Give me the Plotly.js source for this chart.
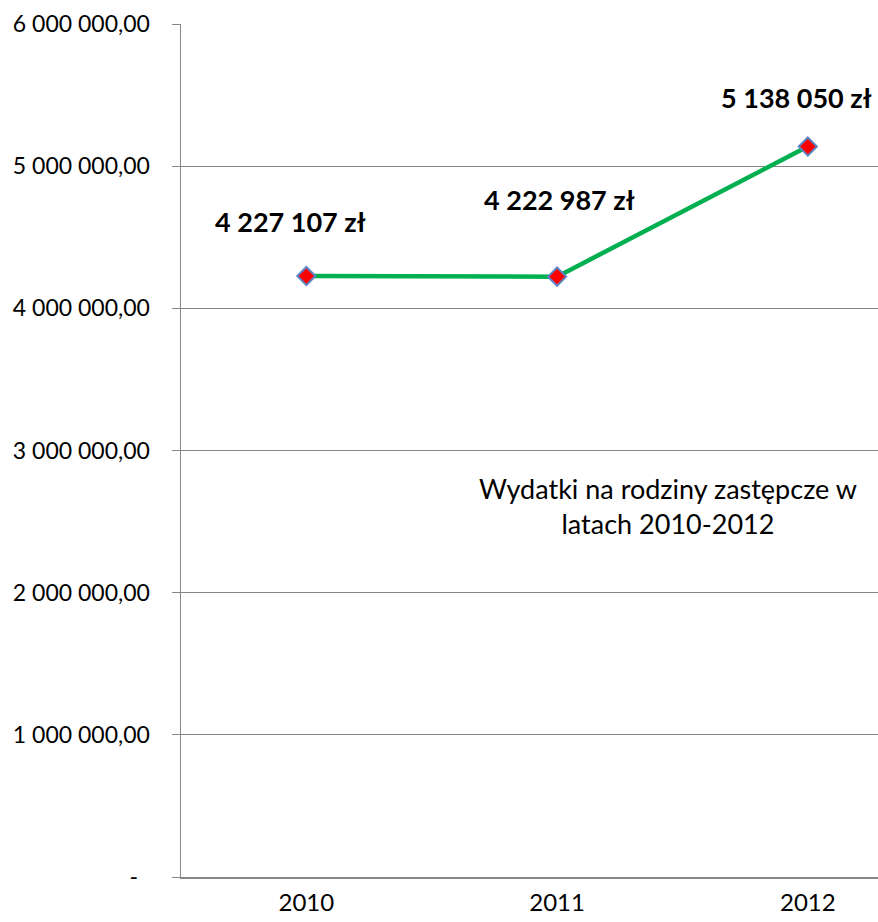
<!DOCTYPE html>
<html>
<head>
<meta charset="utf-8">
<script src="https://cdn.plot.ly/plotly-3.0.1.min.js"></script>
<style>html,body{margin:0;padding:0;background:#fff;}#chart{width:878px;height:922px;}</style>
</head>
<body>
<div id="chart"></div>
<script>
const years = ['2010', '2011', '2012'];
const values = [4227107, 4222987, 5138050];
const valueLabels = ['4 227 107 zł', '4 222 987 zł', '5 138 050 zł'];
const yTickVals = [0, 1000000, 2000000, 3000000, 4000000, 5000000, 6000000];
const yTickText = ['-\u00a0\u00a0', '1 000 000,00', '2 000 000,00', '3 000 000,00', '4 000 000,00', '5 000 000,00', '6 000 000,00'];
const labelShifts = [[-16, 55], [2, 77], [-11, 49]];
const noteText = 'Wydatki na rodziny zastępcze w<br>latach 2010-2012';

const trace = {
  x: years,
  y: values,
  type: 'scatter',
  mode: 'lines+markers',
  line: {color: '#00B050', width: 4.5},
  marker: {symbol: 'diamond', size: 14, color: '#FF0000', line: {color: '#5B86C5', width: 2}},
  hoverinfo: 'none'
};

const annotations = years.map((yr, i) => ({
  x: i, y: values[i], xref: 'x', yref: 'y',
  text: '<b>' + valueLabels[i] + '</b>', showarrow: false,
  xanchor: 'center', yanchor: 'middle',
  xshift: labelShifts[i][0], yshift: labelShifts[i][1],
  font: {family: 'Lato', size: 27, color: '#000'}
}));
annotations.push({
  x: 0.699, y: 0.435, xref: 'paper', yref: 'paper',
  xanchor: 'center', yanchor: 'middle',
  text: noteText, showarrow: false, align: 'center',
  font: {family: 'Lato', size: 27, color: '#000'}
});

const layout = {
  width: 878, height: 922,
  margin: {l: 181, r: 0, t: 24, b: 45, pad: 0},
  paper_bgcolor: '#fff', plot_bgcolor: '#fff',
  showlegend: false,
  font: {family: 'Lato', color: '#000'},
  xaxis: {
    type: 'category', range: [-0.5, 2.28],
    showgrid: false, showline: true, linecolor: '#868686', linewidth: 1.5,
    ticks: '', tickfont: {family: 'Lato', size: 24, color: '#000'},
    ticklabelstandoff: 4, zeroline: false, fixedrange: true
  },
  yaxis: {
    range: [0, 6000000], tickvals: yTickVals, ticktext: yTickText,
    showgrid: true, gridcolor: '#868686', gridwidth: 1,
    showline: true, linecolor: '#868686', linewidth: 1.5,
    ticks: 'outside', ticklen: 8, tickcolor: '#868686', tickwidth: 1,
    tickfont: {family: 'Lato', size: 23, color: '#000'},
    ticklabelstandoff: 17, zeroline: false, fixedrange: true
  },
  annotations: annotations
};

Plotly.newPlot('chart', [trace], layout, {displayModeBar: false, staticPlot: true});
</script>
</body>
</html>
